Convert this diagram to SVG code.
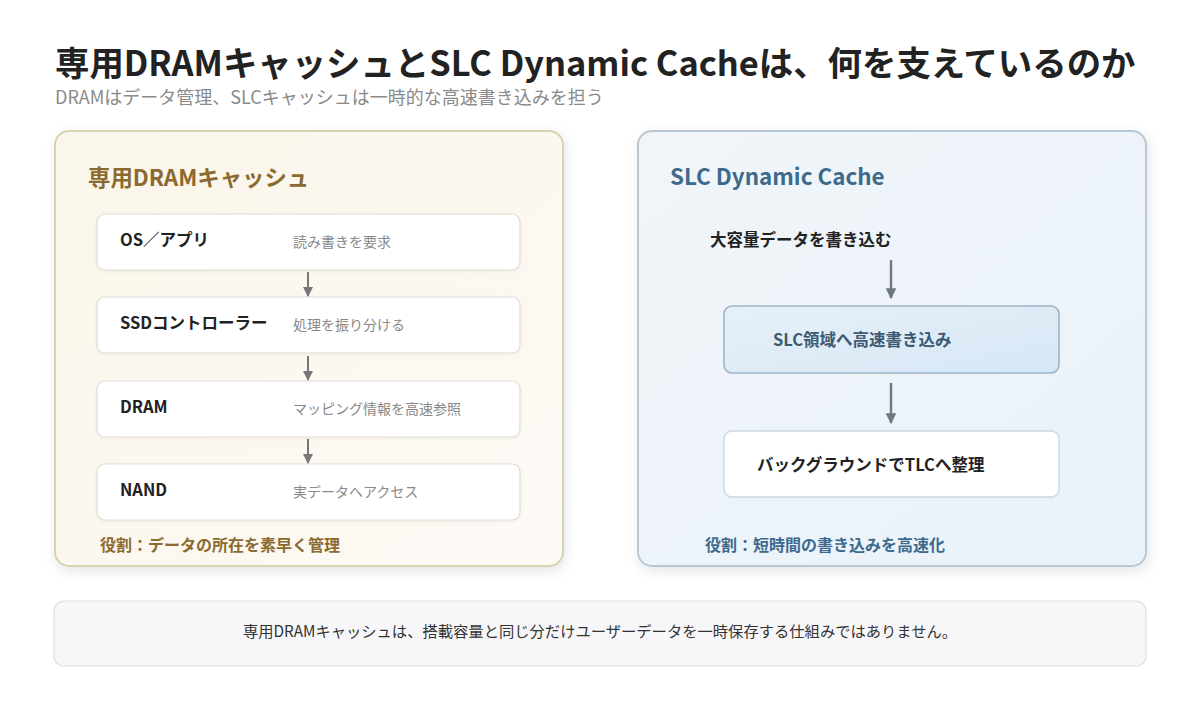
<svg xmlns="http://www.w3.org/2000/svg" width="1200" height="720" viewBox="0 0 1200 720">
<defs>
<style>
text{font-family:"Noto Sans CJK JP","Noto Sans",sans-serif}
.title{font-size:34.4px;font-weight:700;fill:#222}
.sub{font-size:18px;fill:#8a8a8a}
.ptl{font-size:22.4px;font-weight:700;fill:#8a6a2e}
.ptr{font-size:22.4px;font-weight:700;fill:#3d6a8c}
.lbl{font-size:16.5px;font-weight:700;fill:#222}
.desc{font-size:14px;fill:#888}
.role-l{font-size:16px;font-weight:700;fill:#8a6a2e}
.role-r{font-size:16px;font-weight:700;fill:#3d6a8c}
.note{font-size:15.3px;fill:#333}
.ibox{fill:#fff;stroke:#e2ddd6;stroke-width:1.2}
.conn{stroke:#777;stroke-width:2;fill:none}
.connb{stroke:#6f7780;stroke-width:2.4;fill:none}
</style>
<linearGradient id="gl" x1="0" y1="0" x2="1" y2="1">
<stop offset="0" stop-color="#fbf6ea"/>
<stop offset="1" stop-color="#fdf9f5"/>
</linearGradient>
<linearGradient id="gr" x1="0" y1="0" x2="1" y2="1">
<stop offset="0" stop-color="#f1f5f9"/>
<stop offset="1" stop-color="#e9f2f9"/>
</linearGradient>
<linearGradient id="gs" x1="0" y1="0" x2="1" y2="1">
<stop offset="0" stop-color="#e6f0f8"/>
<stop offset="1" stop-color="#d6e7f5"/>
</linearGradient>
<filter id="sh" x="-10%" y="-10%" width="120%" height="125%">
<feDropShadow dx="2" dy="4" stdDeviation="6" flood-color="#000" flood-opacity="0.10"/>
</filter>
<filter id="sh2" x="-10%" y="-20%" width="120%" height="150%">
<feDropShadow dx="0" dy="1" stdDeviation="1.5" flood-color="#000" flood-opacity="0.06"/>
</filter>
<marker id="ah" viewBox="0 0 10 10" refX="9" refY="5" markerWidth="5" markerHeight="5" orient="auto" markerUnits="strokeWidth">
<path d="M0,0 L10,5 L0,10 z" fill="#777"/>
</marker>
<marker id="ahb" viewBox="0 0 10 10" refX="9" refY="5" markerWidth="4.5" markerHeight="4.5" orient="auto" markerUnits="strokeWidth">
<path d="M0,0 L10,5 L0,10 z" fill="#6f7780"/>
</marker>
</defs>
<rect width="1200" height="720" fill="#fff"/>

<g id="header">
<text class="title" x="55" y="76">専用DRAMキャッシュとSLC Dynamic Cacheは、何を支えているのか</text>
<text class="sub" x="55" y="104">DRAMはデータ管理、SLCキャッシュは一時的な高速書き込みを担う</text>
</g>

<g id="panel-dram">
<rect x="55" y="131" width="508" height="435" rx="14" fill="url(#gl)" stroke="#d8d2ae" stroke-width="2" filter="url(#sh)"/>
<text class="ptl" x="88" y="186">専用DRAMキャッシュ</text>
<text class="role-l" x="100" y="551">役割：データの所在を素早く管理</text>
</g>

<g id="node-os">
<rect class="ibox" x="97" y="214" width="423" height="56" rx="8" filter="url(#sh2)"/>
<text class="lbl" x="120" y="246">OS／アプリ</text>
<text class="desc" x="293" y="247">読み書きを要求</text>
</g>
<g id="node-ctrl">
<rect class="ibox" x="97" y="297" width="423" height="56" rx="8" filter="url(#sh2)"/>
<text class="lbl" x="120" y="329">SSDコントローラー</text>
<text class="desc" x="293" y="330">処理を振り分ける</text>
</g>
<g id="node-dram">
<rect class="ibox" x="97" y="381" width="423" height="56" rx="8" filter="url(#sh2)"/>
<text class="lbl" x="120" y="413">DRAM</text>
<text class="desc" x="293" y="414">マッピング情報を高速参照</text>
</g>
<g id="node-nand">
<rect class="ibox" x="97" y="464" width="423" height="56" rx="8" filter="url(#sh2)"/>
<text class="lbl" x="120" y="496">NAND</text>
<text class="desc" x="293" y="497">実データへアクセス</text>
</g>

<g id="panel-slc">
<rect x="638" y="131" width="508" height="435" rx="14" fill="url(#gr)" stroke="#b7c7d3" stroke-width="2" filter="url(#sh)"/>
<text class="ptr" x="670" y="185">SLC Dynamic Cache</text>
<text class="role-r" x="705" y="551">役割：短時間の書き込みを高速化</text>
</g>
<g id="node-write">
<text class="lbl" x="710" y="246">大容量データを書き込む</text>
</g>
<g id="node-slc">
<rect x="724" y="306" width="335" height="67" rx="8" fill="url(#gs)" stroke="#9db5c6" stroke-width="1.6"/>
<text class="lbl" x="773" y="346" style="fill:#3c5a73">SLC領域へ高速書き込み</text>
</g>
<g id="node-tlc">
<rect x="724" y="431" width="335" height="66" rx="8" fill="#fff" stroke="#ccd6df" stroke-width="1.4"/>
<text class="lbl" x="757" y="471">バックグラウンドでTLCへ整理</text>
</g>

<g id="connectors">
<line class="conn" x1="308" y1="272" x2="308" y2="296" marker-end="url(#ah)"/>
<line class="conn" x1="308" y1="356" x2="308" y2="380" marker-end="url(#ah)"/>
<line class="conn" x1="308" y1="439" x2="308" y2="463" marker-end="url(#ah)"/>
<line class="connb" x1="891" y1="260" x2="891" y2="298" marker-end="url(#ahb)"/>
<line class="connb" x1="891" y1="383" x2="891" y2="423" marker-end="url(#ahb)"/>
</g>

<g id="note">
<rect x="54" y="601" width="1092" height="65" rx="10" fill="#f7f7f9" stroke="#dcdce1" stroke-width="1.2"/>
<text class="note" x="600" y="637" text-anchor="middle">専用DRAMキャッシュは、搭載容量と同じ分だけユーザーデータを一時保存する仕組みではありません。</text>
</g>
</svg>
